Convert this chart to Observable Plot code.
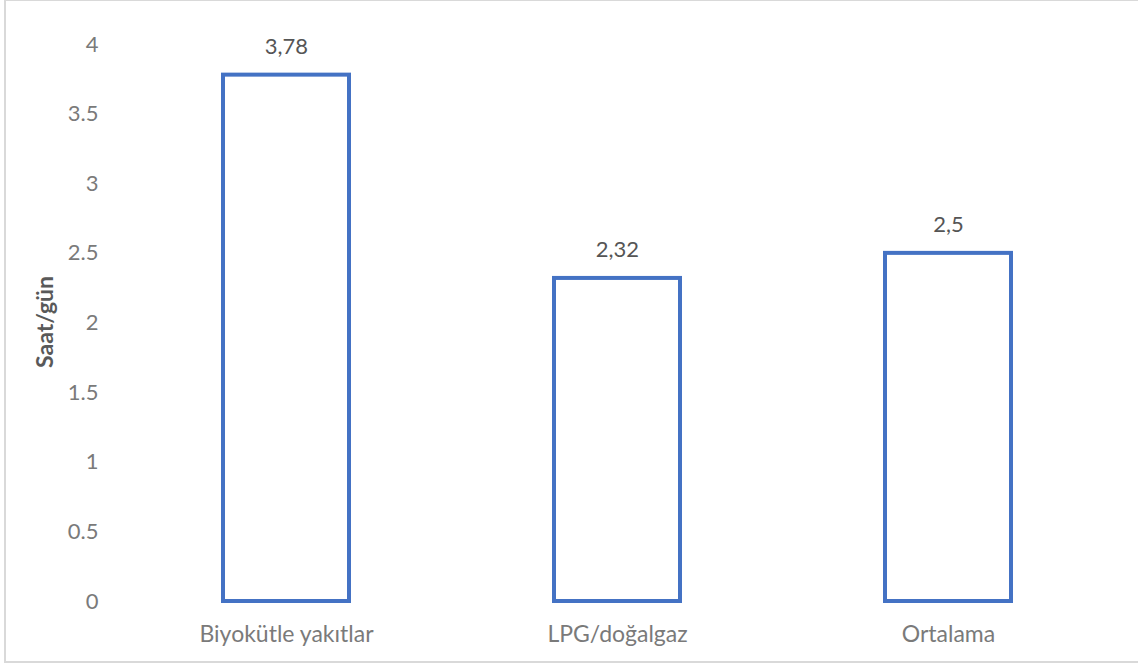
<!DOCTYPE html>
<html>
<head>
<meta charset="utf-8">
<script src="https://cdn.jsdelivr.net/npm/d3@7"></script>
<script src="https://cdn.jsdelivr.net/npm/@observablehq/plot@0.6"></script>
<style>
  html, body { margin: 0; padding: 0; background: #fff; }
  #frame { position: absolute; left: 4px; top: -1px; width: 1140px; height: 664px; border: 2px solid #d9d9d9; box-sizing: border-box; }
  #chart { position: absolute; left: 0; top: 0; }
</style>
</head>
<body>
<div id="frame"></div>
<div id="chart"></div>
<script>
const categories = ["Biyokütle yakıtlar", "LPG/doğalgaz", "Ortalama"];
const values = [3.78, 2.32, 2.5];
const valueLabels = ["3,78", "2,32", "2,5"];
const yTicks = [0, 0.5, 1, 1.5, 2, 2.5, 3, 3.5, 4];
const yTitle = "Saat/gün";

const data = categories.map((c, i) => ({ cat: c, value: values[i], label: valueLabels[i] }));
const font = "Lato, 'Open Sans', sans-serif";
const axisColor = "#7a7a7a";

const chart = Plot.plot({
  width: 1138,
  height: 664,
  marginLeft: 120,
  marginRight: 25,
  marginTop: 44,
  marginBottom: 63,
  style: { fontFamily: font, fontSize: "22px", color: axisColor, background: "transparent" },
  x: { domain: categories, paddingInner: 0.62, paddingOuter: 0.31, label: null },
  y: { domain: [0, 4], label: null },
  marks: [
    Plot.barY(data, { x: "cat", y: "value", fill: "white", stroke: "#4472C4", strokeWidth: 4 }),
    Plot.text(data, { x: "cat", y: "value", text: "label", dy: -28, fill: "#555555", fontSize: 22 }),
    Plot.axisY({ ticks: yTicks, tickSize: 0, tickPadding: 22, tickFormat: d => String(d), label: null, fill: axisColor, fontSize: 22 }),
    Plot.axisX({ tickSize: 0, tickPadding: 24, label: null, fill: axisColor, fontSize: 23 })
  ]
});

const svg = d3.select(chart);
svg.append("text")
  .attr("transform", "translate(53,322) rotate(-90)")
  .attr("text-anchor", "middle")
  .attr("font-family", font)
  .attr("font-size", 23)
  .attr("font-weight", "bold")
  .attr("fill", "#595959")
  .text(yTitle);

document.getElementById("chart").appendChild(chart);
</script>
</body>
</html>
